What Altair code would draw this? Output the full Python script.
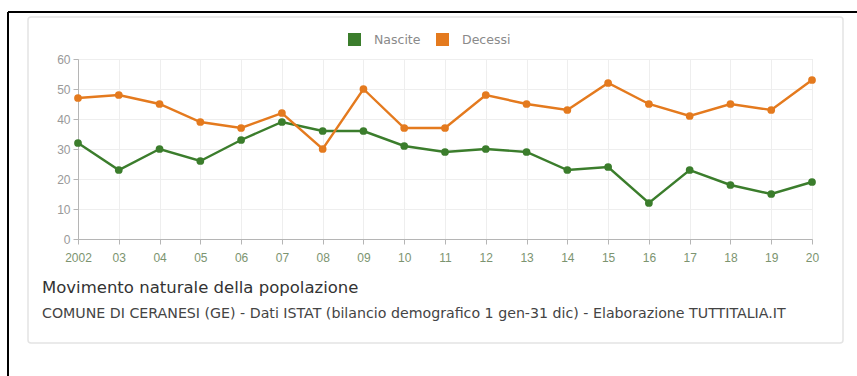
import altair as alt
import pandas as pd

anni = list(range(2002, 2021))
nascite = [32, 23, 30, 26, 33, 39, 36, 36, 31, 29, 30, 29, 23, 24, 12, 23, 18, 15, 19]
decessi = [47, 48, 45, 39, 37, 42, 30, 50, 37, 37, 48, 45, 43, 52, 45, 41, 45, 43, 53]
serie = ["Nascite", "Decessi"]
colori = ["#3b7d2c", "#e47a1e"]
y_ticks = [0, 10, 20, 30, 40, 50, 60]

df = pd.DataFrame(
    {"anno": anni * 2,
     "valore": nascite + decessi,
     "serie": [serie[0]] * len(anni) + [serie[1]] * len(anni)}
)

FONT = "Liberation Sans"
FONT2 = "DejaVu Sans"

x_enc = alt.X(
    "anno:Q",
    scale=alt.Scale(domain=[anni[0], anni[-1]], nice=False, zero=False),
    axis=alt.Axis(
        values=anni,
        labelExpr="datum.value == 2002 ? '2002' : slice(toString(datum.value), 2)",
        title=None, grid=True, gridColor="#eeeeee", domainColor="#b5b5b5",
        tickColor="#b5b5b5", tickSize=5, labelColor="#7c9470", labelFontSize=12,
        labelPadding=8, labelFont=FONT, labelFlush=False,
    ),
)
y_enc = alt.Y(
    "valore:Q",
    scale=alt.Scale(domain=[0, 60], nice=False),
    axis=alt.Axis(
        values=y_ticks, title=None, grid=True, gridColor="#eeeeee",
        domainColor="#b5b5b5", tickColor="#b5b5b5", tickSize=5,
        labelColor="#999999", labelFontSize=12, labelPadding=3, labelFont=FONT,
    ),
)
color_enc = alt.Color(
    "serie:N",
    scale=alt.Scale(domain=serie, range=colori),
    legend=alt.Legend(
        orient="none", legendX=270, legendY=-26, direction="horizontal",
        title=None, symbolType="square", symbolSize=169, symbolStrokeWidth=0,
        labelFontSize=12.5, labelColor="#8a8a8a", labelFont=FONT2, columnPadding=15,
        labelOffset=13, symbolOpacity=1,
    ),
)

base = alt.Chart(df).encode(x=x_enc, y=y_enc, color=color_enc)
lines = base.mark_line(strokeWidth=2.4)
points = base.mark_circle(size=60, opacity=1)

deco = pd.DataFrame({"k": [0]})
card = alt.Chart(deco).mark_rect(
    filled=False, stroke="#e4e4e4", strokeWidth=1.5, cornerRadius=3
).encode(x=alt.value(-50), x2=alt.value(765), y=alt.value(-42), y2=alt.value(284))
frame_top = alt.Chart(deco).mark_rule(color="black", strokeWidth=2).encode(
    x=alt.value(-70), x2=alt.value(779), y=alt.value(-47)
)
frame_left = alt.Chart(deco).mark_rule(color="black", strokeWidth=2).encode(
    x=alt.value(-70), y=alt.value(-47), y2=alt.value(317)
)

chart = (
    alt.layer(card, frame_top, frame_left, lines, points)
    .properties(
        width=734, height=180,
        autosize=alt.AutoSizeParams(type="none"),
        padding={"left": 78, "top": 59, "right": 45, "bottom": 137},
        title=alt.TitleParams(
            text="Movimento naturale della popolazione",
            subtitle="COMUNE DI CERANESI (GE) - Dati ISTAT (bilancio demografico 1 gen-31 dic) - Elaborazione TUTTITALIA.IT",
            orient="bottom", anchor="start", dx=35, offset=-97,
            font=FONT2, fontSize=16.5, fontWeight="normal", color="#333333",
            subtitleFont=FONT2, subtitleFontSize=14.2, subtitleColor="#444444",
            subtitlePadding=10,
        ),
    )
    .configure_view(stroke=None)
    .configure(background="white")
)

chart.save("out.html", embed_options={"renderer": "svg", "actions": False})
